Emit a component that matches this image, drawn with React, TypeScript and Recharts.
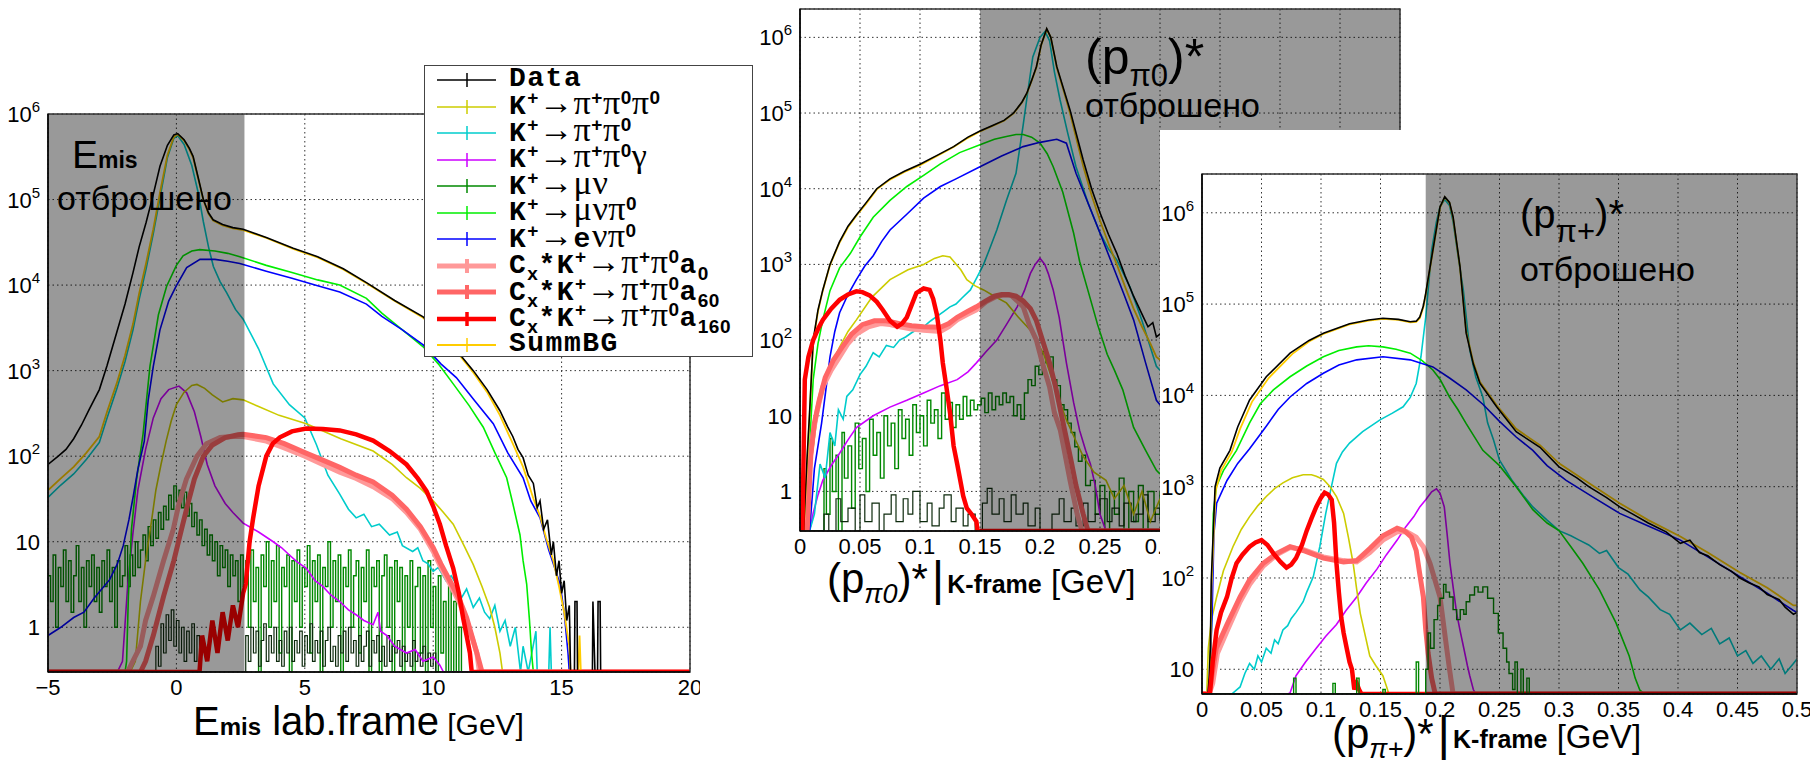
import React from "react";
import {
  LineChart,
  Line,
  XAxis,
  YAxis,
  CartesianGrid,
  ReferenceArea,
  Legend,
} from "recharts";

type Pt = [number, number];
type Key =
  | "data" | "k3pi" | "k2pi" | "k2pig" | "kmu2" | "kmu3"
  | "ke3" | "a0" | "a60" | "a160" | "bg" | "dark";

const SANS = "'Liberation Sans', Arial, sans-serif";
const MONO = "'Liberation Mono', 'Courier New', monospace";
const SERIF = "'Liberation Serif', 'Times New Roman', serif";

// line styles shared by the three panels
const STYLE: Record<Key, { color: string; width: number; step?: boolean }> = {
  data: { color: "#000000", width: 1.6 },
  k3pi: { color: "#cccc00", width: 1.6 },
  k2pi: { color: "#00cccc", width: 1.6 },
  k2pig: { color: "#cc00ff", width: 1.6 },
  kmu2: { color: "#008800", width: 1.4, step: true },
  kmu3: { color: "#00ee00", width: 1.6 },
  ke3: { color: "#0000ff", width: 1.6 },
  a0: { color: "#ff9999", width: 5 },
  a60: { color: "#ff6666", width: 5 },
  a160: { color: "#ff0000", width: 4.5 },
  bg: { color: "#ffcc00", width: 1.8 },
  dark: { color: "#0d2a0d", width: 1.2, step: true },
};

const LEGEND_KEYS: Key[] = ["data", "k3pi", "k2pi", "k2pig", "kmu2", "kmu3", "ke3", "a0", "a60", "a160", "bg"];
const LEGEND_TEXT = [
  "Data",
  "K^{+}→π^{+}π^{0}π^{0}",
  "K^{+}→π^{+}π^{0}",
  "K^{+}→π^{+}π^{0}γ",
  "K^{+}→μν",
  "K^{+}→μνπ^{0}",
  "K^{+}→eνπ^{0}",
  "C_{x}*K^{+}→π^{+}π^{0}a_{0}",
  "C_{x}*K^{+}→π^{+}π^{0}a_{60}",
  "C_{x}*K^{+}→π^{+}π^{0}a_{160}",
  "SummBG",
];

// ---------- left panel: E_mis lab.frame [GeV] ----------
const E_X: [number, number] = [-5, 20];
const E_Y: [number, number] = [0.3, 1e6];
const E_CUT: [number, number] = [-5, 2.65];
const E_MAJOR = [-5, 0, 5, 10, 15, 20];

const E_DATA: Pt[] = [[-5,80],[-4.6,100],[-4.3,120],[-4,160],[-3.7,230],[-3.4,350],[-3,600],[-2.7,1150],[-2.33,2760],[-2,6000],[-1.69,14000],[-1.45,28000],[-1.18,54000],[-0.9,115000],[-0.64,245000],[-0.35,430000],[-0.1,570000],[0.05,590000],[0.3,500000],[0.5,400000],[0.65,320000],[0.85,180000],[1.05,100000],[1.25,70000],[1.43,58000],[1.8,51000],[2.2,47000],[2.6,45000],[3.5,36000],[4.55,27000],[5.5,21500],[6.5,15500],[7.4,10700],[8.5,6600],[9.61,4250],[10.5,2300],[11,1600],[11.56,1000],[12.1,600],[12.6,340],[12.9,220],[13.1,170],[13.3,120],[13.5,96],[13.7,60],[13.9,48],[14.05,25],[14.16,30],[14.3,14],[14.45,18],[14.6,7],[14.68,10],[14.8,4],[14.9,6],[15,2.5],[15.1,3.5],[15.2,1.2],[15.3,1.8],[15.35,0],[15.5,0],[15.52,2],[15.6,2],[15.62,0],[16.2,0],[16.22,2],[16.3,0],[16.4,0],[16.42,2],[16.5,2],[16.52,0]];
const E_BG: Pt[] = [[-5,40],[-4.5,55],[-4,75],[-3.5,110],[-3,170],[-2.7,330],[-2.33,700],[-2,1500],[-1.69,3500],[-1.45,8000],[-1.18,18000],[-0.9,45000],[-0.64,120000],[-0.35,330000],[-0.1,540000],[0.05,580000],[0.3,490000],[0.5,390000],[0.65,310000],[0.85,175000],[1.05,98000],[1.25,68000],[1.43,57000],[1.8,50000],[2.2,46000],[2.6,44000],[3.5,35500],[4.55,26500],[5.5,21000],[6.5,15200],[7.4,10500],[8.5,6500],[9.61,4150],[10.5,2250],[11,1550],[11.56,950],[12.1,560],[12.6,300],[13.1,140],[13.5,75],[13.9,32],[14.16,20],[14.4,11],[14.68,6],[14.9,3],[15.1,1.5],[15.3,0.6],[15.35,0],[15.65,0],[15.7,0.8],[15.75,0],[20,0]];
const E_K3PI: Pt[] = [[-5,0],[-1.8,0],[-1.6,0.4],[-1.4,2],[-1.2,6],[-1,15],[-0.8,40],[-0.6,80],[-0.4,150],[-0.2,260],[0,400],[0.3,560],[0.6,670],[0.8,690],[1.1,620],[1.4,520],[1.8,430],[2.2,470],[2.6,455],[3.2,380],[4,300],[5.06,240],[6.4,160],[7.66,115],[8.4,80],[8.96,56],[9.5,42],[10,30],[10.4,22],[10.78,16],[11.2,9],[11.56,5.4],[11.9,3],[12.2,1.7],[12.4,1],[12.6,0.5],[12.7,0],[20,0]];
const E_K2PI: Pt[] = [[-5,33],[-4.5,46],[-4,62],[-3.5,92],[-3,145],[-2.7,280],[-2.33,600],[-2,1280],[-1.69,3000],[-1.45,6800],[-1.18,15500],[-0.9,40000],[-0.64,105000],[-0.35,310000],[-0.1,520000],[0.05,560000],[0.3,440000],[0.6,250000],[0.85,120000],[1.05,55000],[1.25,28000],[1.44,16500],[1.7,11000],[1.96,8100],[2.3,5200],[2.6,4000],[3.2,1800],[3.77,700],[4.4,400],[5,280],[5.45,137],[5.9,60],[6.36,36],[6.7,24],[7,19],[7.3,21],[7.6,15],[7.9,16],[8.3,12],[8.6,13],[8.8,9],[9.2,7.7],[9.4,8.5],[9.6,6],[9.8,5.5],[10,4.5],[10.2,5],[10.5,3.5],[10.7,4],[10.9,3.2],[11.1,2.2],[11.3,2.8],[11.56,1.7],[11.8,2.2],[12,1.5],[12.2,1.26],[12.4,1.8],[12.6,0.9],[12.8,1.2],[13,0.6],[13.2,1],[13.4,0],[13.5,0.6],[13.7,0],[14,0.9],[14.05,0],[14.5,0],[14.55,1],[14.6,0],[20,0]];
const E_K2PIG: Pt[] = [[-5,0],[-2.3,0],[-2.1,0.4],[-1.9,3],[-1.7,12],[-1.5,40],[-1.2,120],[-0.9,280],[-0.6,470],[-0.3,600],[0.1,660],[0.4,550],[0.7,330],[0.95,170],[1.2,80],[1.5,45],[1.9,28],[2.2,22],[2.6,16.5],[3.2,13],[3.77,10],[4.1,8.5],[4.4,7],[4.7,5.8],[5.06,4.9],[5.4,3.5],[5.7,3],[6,2.4],[6.36,2],[6.7,1.6],[7,1.4],[7.3,1.2],[7.66,1.07],[7.85,1.5],[7.95,0.9],[8.2,0.8],[8.5,0.6],[8.96,0.5],[9.3,0.55],[9.6,0.4],[10,0.45],[10.26,0.36],[10.4,0],[20,0]];
const E_KMU2: Pt[] = [[-5,4],[-4.9,2],[-4.8,7],[-4.7,1],[-4.6,5],[-4.5,3],[-4.4,8],[-4.3,2],[-4.2,6],[-4.1,1.5],[-4,4],[-3.9,9],[-3.8,2],[-3.7,5],[-3.6,1],[-3.5,6],[-3.4,3],[-3.3,7],[-3.2,2],[-3.1,5],[-3,1.5],[-2.9,6],[-2.8,3],[-2.7,8],[-2.6,2],[-2.5,5],[-2.4,1],[-2.3,6],[-2.2,3],[-2.1,4],[-2,9],[-1.9,3],[-1.8,7],[-1.7,4],[-1.6,10],[-1.5,5],[-1.4,8],[-1.3,12],[-1.2,6],[-1.1,15],[-1,9],[-0.9,18],[-0.8,11],[-0.7,22],[-0.6,14],[-0.5,26],[-0.4,18],[-0.3,35],[-0.2,24],[-0.1,45],[0,30],[0.1,40],[0.2,25],[0.3,38],[0.4,20],[0.5,28],[0.6,15],[0.7,22],[0.8,12],[0.9,18],[1,9],[1.1,14],[1.2,7],[1.3,12],[1.4,6],[1.5,10],[1.6,4],[1.7,9],[1.8,5],[1.9,8],[2,3],[2.1,7],[2.2,4],[2.3,6],[2.4,2],[2.5,7],[2.6,3],[2.7,6],[2.8,1],[2.9,8],[3,2],[3.1,5],[3.2,0],[3.3,7],[3.4,3],[3.5,10],[3.6,1],[3.7,6],[3.8,2],[3.9,9],[4,0.5],[4.1,5],[4.2,3],[4.3,7],[4.4,0],[4.5,6],[4.6,2],[4.7,8],[4.8,1],[4.9,5],[5,3],[5.1,9],[5.2,0.5],[5.3,6],[5.4,2],[5.5,7],[5.6,0],[5.7,5],[5.8,3],[5.9,10],[6,1],[6.1,6],[6.2,2],[6.3,7],[6.4,0],[6.5,5],[6.6,3],[6.7,8],[6.8,1],[6.9,4],[7,6],[7.1,0.5],[7.2,5],[7.3,2],[7.4,8],[7.5,0],[7.6,5],[7.7,3],[7.8,6],[7.9,0],[8,4],[8.1,7],[8.2,1],[8.3,5],[8.4,0],[8.5,6],[8.6,2],[8.7,5],[8.8,0],[8.9,4],[9,1],[9.1,6],[9.2,0],[9.3,3],[9.4,5],[9.5,0.5],[9.6,4],[9.7,0],[9.8,6],[9.9,1],[10,3],[10.1,0],[10.2,4],[10.3,0.5],[10.4,2],[10.5,0],[10.6,3],[10.7,0],[10.8,2],[10.9,0],[11,1],[11.1,0],[20,0]];
const E_DARK: Pt[] = [[-5,0],[-0.9,0],[-0.8,0.6],[-0.7,0.35],[-0.6,1.1],[-0.5,0.5],[-0.4,1.4],[-0.3,0.7],[-0.2,1.6],[-0.1,0.6],[0,1.2],[0.1,0.5],[0.2,1],[0.3,0.4],[0.4,0.9],[0.5,0.5],[0.6,1.1],[0.7,0.4],[0.8,0.8],[0.9,0],[2.7,0.8],[2.8,0.4],[2.9,1],[3,0.5],[3.1,0.9],[3.2,0.35],[3.3,0.7],[3.4,1.1],[3.5,0.4],[3.6,0.8],[3.7,0.5],[3.8,1],[3.9,0.4],[4,0.7],[4.1,0.35],[4.2,0.9],[4.3,0.5],[4.4,1],[4.5,0.4],[4.6,0.7],[4.7,0.5],[4.8,0.9],[4.9,0.35],[5,0.8],[5.1,0.5],[5.2,1.1],[5.3,0.4],[5.4,0.7],[5.5,0.5],[5.6,0.9],[5.7,0.35],[5.8,0.7],[5.9,1],[6,0.4],[6.1,0.6],[6.2,0.35],[6.3,0.8],[6.4,0.5],[6.5,0.9],[6.6,0.4],[6.7,1],[6.8,0.5],[6.9,0.7],[7,0.35],[7.1,0.8],[7.2,0.4],[7.3,0.6],[7.4,0.9],[7.5,0.35],[7.6,0.7],[7.7,0.5],[7.8,0.8],[7.9,0.4],[8,0.6],[8.1,0.35],[8.2,0.8],[8.3,0.4],[8.4,0.6],[8.5,0.5],[8.6,0.7],[8.7,0.35],[8.8,0.6],[8.9,0.4],[9,0.5],[9.1,0.35],[9.2,0.7],[9.3,0.4],[9.4,0.5],[9.5,0.35],[9.6,0.6],[9.7,0.4],[9.8,0.5],[9.9,0.35],[10,0.5],[10.1,0],[20,0]];
const E_KMU3: Pt[] = [[-5,0],[-2,0],[-1.94,0.4],[-1.87,2.3],[-1.75,14],[-1.55,54],[-1.3,180],[-1.03,1120],[-0.7,4500],[-0.38,9700],[0,17000],[0.26,22000],[0.6,25000],[0.91,26000],[1.5,25000],[2,23500],[2.47,21500],[3.5,17000],[4.5,14000],[5.5,11500],[6.36,10000],[7.4,7000],[8,4700],[8.8,3000],[9.61,1900],[10.2,1200],[10.78,700],[11.4,390],[11.95,218],[12.4,110],[12.86,56],[13.1,28],[13.38,12],[13.5,6],[13.64,3.2],[13.75,1.2],[13.83,0.5],[13.9,0],[20,0]];
const E_KE3: Pt[] = [[-5,0.8],[-4.5,1],[-4,1.3],[-3.6,1.5],[-3.2,2.2],[-2.6,3.6],[-2.3,5.5],[-2.07,9],[-1.85,18],[-1.68,34],[-1.5,70],[-1.25,150],[-1.1,450],[-0.9,1120],[-0.64,3000],[-0.3,6500],[-0.01,9700],[0.4,16000],[0.92,20000],[1.5,20000],[2,19000],[2.47,17900],[3.5,14500],[4.5,12000],[5.5,9800],[6.36,8300],[7.4,6000],[8,4300],[8.8,3000],[9.61,2000],[10.3,1200],[10.9,830],[11.6,450],[12.34,240],[12.9,110],[13.5,56],[13.8,30],[14.16,19],[14.5,8],[14.94,3.2],[15.1,1.5],[15.25,0.5],[15.3,0],[20,0]];
const E_A0: Pt[] = [[-5,0],[-1.9,0],[-1.7,0.4],[-1.4,0.6],[-1.2,1.2],[-0.9,2.3],[-0.5,6],[-0.12,14],[0.1,28],[0.39,54],[0.8,100],[1.17,140],[1.7,165],[2.2,170],[2.6,170],[3.5,150],[4.2,125],[5,100],[5.7,80],[6.36,65],[7,55],[7.66,44],[8.4,32],[8.96,22],[9.5,14],[10,7.7],[10.3,5],[10.65,3.2],[11,2],[11.3,1.2],[11.7,0.5],[11.8,0],[20,0]];
const E_A60: Pt[] = [[-5,0],[-1.4,0],[-1.2,0.4],[-0.9,0.8],[-0.5,2.3],[-0.1,6],[0.2,14],[0.45,28],[0.7,54],[1.05,100],[1.4,135],[1.9,165],[2.4,178],[2.6,180],[3.5,165],[4.2,140],[5,110],[5.7,90],[6.36,74],[7,60],[7.66,50],[8.4,35],[8.96,24],[9.5,15],[10,8.5],[10.3,5.5],[10.65,3.5],[11,2.2],[11.3,1.3],[11.7,0.5],[11.9,0],[20,0]];
const E_A160: Pt[] = [[-5,0],[0.9,0],[1,0.8],[1.2,0.4],[1.4,1.2],[1.6,0.5],[1.8,1.5],[2,0.7],[2.2,1.8],[2.4,1],[2.6,2.5],[2.7,3.2],[2.85,10],[2.99,19],[3.2,45],[3.5,100],[3.75,140],[4.03,166],[4.5,195],[5.06,210],[5.7,208],[6.36,200],[7,180],[7.66,152],[8.3,115],[8.96,80],[9.4,55],[9.74,39],[10,26],[10.26,16],[10.5,9],[10.78,4.9],[11,2.5],[11.17,1.26],[11.3,0.8],[11.43,0.5],[11.5,0],[20,0]];

// ---------- middle panel: (p_pi0)* K-frame [GeV] ----------
const P0_X: [number, number] = [0, 0.5];
const P0_Y: [number, number] = [0.3, 2.37e6];
const P0_CUT: [number, number] = [0.15, 0.5];

const P0_DATA: Pt[] = [[0,0],[0.003,0],[0.006,3],[0.008,11],[0.011,100],[0.015,250],[0.019,460],[0.025,1000],[0.033,2000],[0.04,3200],[0.047,4500],[0.055,6500],[0.064,10000],[0.075,13500],[0.087,17000],[0.1,21000],[0.115,28000],[0.128,36000],[0.14,48000],[0.15,58000],[0.16,68000],[0.17,80000],[0.178,100000],[0.185,140000],[0.189,183000],[0.193,270000],[0.197,410000],[0.201,800000],[0.2056,1300000],[0.209,1000000],[0.214,410000],[0.22,200000],[0.225,110000],[0.23,55000],[0.236,24000],[0.243,10000],[0.25,4800],[0.257,2500],[0.264,1400],[0.271,700],[0.278,380],[0.285,220],[0.29,150],[0.294,170],[0.297,110],[0.3,120]];
const P0_BG: Pt[] = [[0,0],[0.003,0],[0.006,2.5],[0.008,10],[0.011,95],[0.015,240],[0.019,450],[0.025,980],[0.033,1950],[0.04,3100],[0.047,4400],[0.055,6300],[0.064,9800],[0.075,13200],[0.087,16700],[0.1,20500],[0.115,27500],[0.128,35500],[0.14,47000],[0.15,57000],[0.16,67000],[0.17,79000],[0.178,99000],[0.185,138000],[0.189,180000],[0.193,265000],[0.197,400000],[0.201,790000],[0.2056,1280000],[0.209,1000000],[0.214,400000],[0.22,190000],[0.225,100000],[0.23,48000],[0.236,20000],[0.243,8200],[0.25,3800],[0.257,1900],[0.264,1000],[0.271,500],[0.278,260],[0.285,150],[0.292,90],[0.297,60],[0.3,55]];
const P0_K3PI: Pt[] = [[0,0],[0.006,0],[0.01,3],[0.015,12],[0.02,30],[0.028,55],[0.033,81],[0.04,130],[0.047,185],[0.06,370],[0.075,630],[0.09,850],[0.103,1000],[0.112,1200],[0.119,1300],[0.125,1250],[0.128,1100],[0.134,850],[0.139,630],[0.146,520],[0.153,460],[0.162,380],[0.172,310],[0.182,200],[0.192,135],[0.203,66],[0.214,20],[0.222,8.8],[0.229,5],[0.236,2.9],[0.245,1.8],[0.255,1.4],[0.262,0.8],[0.27,1.2],[0.278,0.5],[0.285,1],[0.292,0.4],[0.3,0.8]];
const P0_K2PI: Pt[] = [[0,0],[0.008,0],[0.012,0.5],[0.0167,2.3],[0.021,1.5],[0.025,6],[0.029,4],[0.032,12],[0.036,9],[0.039,18],[0.044,22],[0.05,35],[0.055,45],[0.061,68],[0.066,60],[0.072,85],[0.078,80],[0.083,100],[0.088,110],[0.093,125],[0.098,140],[0.103,150],[0.109,180],[0.115,210],[0.12,240],[0.125,275],[0.13,300],[0.135,360],[0.142,460],[0.148,700],[0.153,1000],[0.158,1600],[0.164,2850],[0.172,7000],[0.18,16000],[0.186,70000],[0.19,200000],[0.194,550000],[0.2,1000000],[0.2042,1200000],[0.208,900000],[0.212,350000],[0.2167,150000],[0.223,55000],[0.23,19500],[0.24,6500],[0.25,2600],[0.257,1600],[0.264,1150],[0.275,500],[0.285,180],[0.297,45],[0.3,40]];
const P0_K2PIG: Pt[] = [[0,0],[0.006,0],[0.009,0.35],[0.011,0.52],[0.015,0.9],[0.019,1.4],[0.026,2.2],[0.033,3.2],[0.04,4.8],[0.047,7],[0.061,10],[0.075,13],[0.089,16],[0.103,20],[0.117,25],[0.131,30],[0.14,38],[0.147,50],[0.155,70],[0.164,100],[0.172,160],[0.181,275],[0.187,450],[0.192,760],[0.196,1000],[0.2,1200],[0.204,1000],[0.207,750],[0.211,460],[0.216,200],[0.222,50],[0.228,15],[0.233,6.4],[0.238,3.5],[0.242,2.3],[0.246,1.2],[0.25,0.5],[0.255,0],[0.3,0]];
const P0_KMU2: Pt[] = [[0,0],[0.018,0],[0.02,2],[0.022,0.5],[0.025,5],[0.027,1],[0.03,3],[0.032,0],[0.035,6],[0.037,1.5],[0.04,4],[0.043,0.6],[0.046,8],[0.049,2],[0.052,5],[0.055,1],[0.058,9],[0.061,3],[0.064,6],[0.067,1.5],[0.07,10],[0.073,4],[0.076,8],[0.079,2],[0.082,12],[0.085,5],[0.088,9],[0.091,3],[0.094,14],[0.097,6],[0.1,10],[0.103,4],[0.106,16],[0.109,8],[0.112,12],[0.115,5],[0.118,20],[0.121,9],[0.124,15],[0.127,7],[0.13,14],[0.133,9],[0.136,18],[0.139,10],[0.142,16],[0.145,12],[0.148,14],[0.151,17],[0.154,11],[0.157,20],[0.16,12],[0.163,18],[0.166,14],[0.169,20],[0.172,15],[0.175,18],[0.178,10],[0.181,14],[0.184,9],[0.187,20],[0.19,30],[0.193,25],[0.196,45],[0.199,35],[0.202,70],[0.205,50],[0.208,60],[0.211,30],[0.214,25],[0.217,14],[0.22,12],[0.223,8],[0.226,6],[0.229,3.9],[0.232,2.5],[0.235,3],[0.238,1.2],[0.242,1.4],[0.246,0.5],[0.25,1.2],[0.254,0.3],[0.258,1],[0.262,0.5],[0.266,1.5],[0.27,0],[0.274,1],[0.278,0.4],[0.282,1.2],[0.286,0],[0.29,1],[0.295,0.5],[0.3,1]];
const P0_DARK: Pt[] = [[0,0],[0.018,0],[0.02,0.5],[0.024,0],[0.03,0.8],[0.034,0.4],[0.04,0.6],[0.046,0],[0.05,0.9],[0.054,0.4],[0.06,0.7],[0.066,0],[0.07,0.5],[0.076,0.9],[0.08,0.4],[0.086,0.8],[0.09,0.5],[0.094,1],[0.1,0.4],[0.106,0.7],[0.11,0.35],[0.116,0.6],[0.12,0.9],[0.126,0.4],[0.13,0.6],[0.136,0.35],[0.14,0.5],[0.146,0],[0.152,0.7],[0.156,1.1],[0.16,0.5],[0.166,0.8],[0.17,0.4],[0.176,0.9],[0.18,0.5],[0.186,0.7],[0.19,0.35],[0.196,0.6],[0.2,0],[0.21,0.5],[0.216,0.8],[0.22,0.4],[0.226,0.6],[0.23,0.35],[0.236,0.7],[0.24,0.4],[0.246,0.5],[0.25,0.8],[0.256,0.4],[0.26,0.6],[0.266,0.35],[0.27,0.7],[0.276,0.4],[0.28,0.5],[0.286,0.9],[0.29,0.4],[0.296,0.6],[0.3,0.4]];
const P0_KMU3: Pt[] = [[0,0],[0.004,0],[0.007,1.4],[0.009,8],[0.011,30],[0.015,90],[0.019,185],[0.025,450],[0.033,900],[0.042,1400],[0.05,2300],[0.061,4200],[0.075,7000],[0.089,10700],[0.103,15000],[0.117,21300],[0.133,30000],[0.15,38000],[0.162,45000],[0.172,49000],[0.18,52000],[0.186,52000],[0.193,48000],[0.2,40000],[0.206,29000],[0.211,19500],[0.219,9000],[0.228,2600],[0.233,1100],[0.24,450],[0.248,160],[0.256,65],[0.262,40],[0.269,22],[0.278,7],[0.288,3.5],[0.297,1.9],[0.3,1.7]];
const P0_KE3: Pt[] = [[0,0],[0.008,0],[0.012,2],[0.018,8],[0.022,25],[0.025,60],[0.029,130],[0.033,230],[0.04,400],[0.047,630],[0.054,950],[0.061,1300],[0.068,2000],[0.075,2850],[0.089,4600],[0.103,7500],[0.117,10700],[0.13,13500],[0.15,19500],[0.168,27000],[0.186,36000],[0.2,41000],[0.214,45000],[0.222,40000],[0.23,16000],[0.239,7100],[0.25,2600],[0.261,930],[0.27,400],[0.278,185],[0.288,50],[0.297,16],[0.3,14]];
const P0_A0: Pt[] = [[0,0],[0.005,0],[0.008,2.3],[0.011,6],[0.014,11],[0.019,24],[0.026,40],[0.033,60],[0.04,90],[0.047,120],[0.057,150],[0.067,165],[0.075,160],[0.083,150],[0.093,140],[0.103,135],[0.117,130],[0.124,150],[0.131,185],[0.14,220],[0.147,250],[0.155,320],[0.164,380],[0.17,395],[0.176,390],[0.181,330],[0.186,275],[0.191,160],[0.197,100],[0.202,50],[0.208,24],[0.212,11],[0.217,6.4],[0.221,3],[0.225,1.4],[0.231,0.5],[0.235,0],[0.3,0]];
const P0_A60: Pt[] = [[0,0],[0.006,0],[0.009,3],[0.012,8],[0.016,16],[0.021,32],[0.028,55],[0.035,80],[0.043,120],[0.052,160],[0.062,180],[0.072,180],[0.083,165],[0.093,155],[0.103,150],[0.117,148],[0.124,165],[0.131,200],[0.14,240],[0.147,275],[0.155,330],[0.162,380],[0.168,400],[0.174,400],[0.18,380],[0.186,330],[0.192,260],[0.197,180],[0.202,100],[0.208,50],[0.213,24],[0.218,10],[0.222,5],[0.226,2.5],[0.23,1.2],[0.236,0.5],[0.24,0],[0.3,0]];
const P0_A160: Pt[] = [[0,0],[0.002,0],[0.004,30],[0.007,60],[0.011,100],[0.015,140],[0.019,185],[0.026,260],[0.033,340],[0.04,400],[0.047,440],[0.052,430],[0.058,390],[0.064,320],[0.069,250],[0.075,180],[0.081,150],[0.085,165],[0.089,200],[0.093,290],[0.097,420],[0.103,480],[0.108,460],[0.111,350],[0.114,220],[0.117,100],[0.119,50],[0.122,24],[0.125,11],[0.128,4],[0.131,2.3],[0.136,0.87],[0.139,0.6],[0.143,0.5],[0.147,0.4],[0.148,0],[0.5,0]];

// ---------- right panel: (p_pi+)* K-frame [GeV] ----------
const PP_X: [number, number] = [0, 0.5];
const PP_Y: [number, number] = [5.36, 2.66e6];
const PP_CUT: [number, number] = [0.188, 0.5];

const PP_DATA: Pt[] = [[0,0],[0.005,0],[0.006,8],[0.007,17],[0.0078,95],[0.0095,330],[0.011,1000],[0.015,1600],[0.0235,2500],[0.03,4500],[0.04,8900],[0.054,16000],[0.074,29000],[0.09,40000],[0.102,48000],[0.124,61000],[0.14,67000],[0.152,70000],[0.165,68000],[0.175,64000],[0.18,65000],[0.183,72000],[0.186,95000],[0.188,131000],[0.194,390000],[0.2,1160000],[0.204,1500000],[0.208,1300000],[0.211,900000],[0.2168,257000],[0.222,48000],[0.228,22000],[0.2336,13500],[0.2476,7500],[0.264,4000],[0.284,2700],[0.3,1650],[0.315,1250],[0.325,1000],[0.34,760],[0.351,600],[0.362,500],[0.375,400],[0.39,320],[0.402,240],[0.41,260],[0.418,190],[0.425,175],[0.435,140],[0.445,118],[0.452,100],[0.46,88],[0.468,80],[0.475,66],[0.485,58],[0.49,48],[0.497,40],[0.5,42]];
const PP_BG: Pt[] = [[0,0],[0.005,0],[0.006,6],[0.007,14],[0.008,80],[0.0098,300],[0.0115,900],[0.016,1500],[0.025,2400],[0.032,4300],[0.042,8500],[0.056,15500],[0.076,28500],[0.09,39000],[0.102,47000],[0.124,60000],[0.14,66000],[0.152,69000],[0.165,67000],[0.175,63000],[0.18,64000],[0.183,70000],[0.186,92000],[0.188,128000],[0.194,380000],[0.2,1140000],[0.204,1480000],[0.208,1280000],[0.211,880000],[0.2168,250000],[0.222,50000],[0.228,23000],[0.2336,14000],[0.2476,7800],[0.264,4300],[0.284,2850],[0.3,1800],[0.325,1100],[0.351,660],[0.375,430],[0.402,285],[0.425,190],[0.452,115],[0.475,78],[0.497,50],[0.5,50]];
const PP_K3PI: Pt[] = [[0,0],[0.004,0],[0.0053,17],[0.008,35],[0.0123,62],[0.018,120],[0.026,220],[0.033,340],[0.04,470],[0.047,620],[0.054,780],[0.061,950],[0.068,1100],[0.076,1250],[0.085,1350],[0.092,1350],[0.096,1300],[0.102,1200],[0.1076,1000],[0.113,780],[0.119,510],[0.123,280],[0.127,145],[0.13,75],[0.133,41],[0.137,24],[0.141,14],[0.146,11],[0.152,8.5],[0.155,6.5],[0.157,0],[0.5,0]];
const PP_K2PI: Pt[] = [[0,0],[0.025,0],[0.032,6.4],[0.036,9],[0.04,11.6],[0.044,10],[0.047,14],[0.05,12],[0.054,17],[0.058,15],[0.061,21],[0.064,19],[0.068,27],[0.072,30],[0.075,36],[0.079,42],[0.082,48],[0.085,55],[0.088,70],[0.0935,103],[0.099,220],[0.104,510],[0.108,900],[0.113,1800],[0.118,2400],[0.124,3000],[0.135,4000],[0.1496,5400],[0.16,6400],[0.169,7500],[0.175,9500],[0.18,13500],[0.184,26500],[0.188,72000],[0.193,390000],[0.197,800000],[0.2,1160000],[0.204,1400000],[0.208,1200000],[0.211,800000],[0.215,350000],[0.2196,142000],[0.225,31500],[0.23,16000],[0.236,9600],[0.24,5000],[0.245,3240],[0.25,1950],[0.26,1200],[0.27,800],[0.278,600],[0.29,430],[0.3,330],[0.31,290],[0.317,260],[0.325,230],[0.334,186],[0.34,200],[0.35,130],[0.358,110],[0.368,74],[0.375,62],[0.385,45],[0.393,40],[0.402,27],[0.41,32],[0.42,24],[0.428,28],[0.435,19],[0.443,22],[0.45,14],[0.457,16],[0.463,11.6],[0.47,14],[0.478,10],[0.485,13],[0.49,9],[0.497,11.6],[0.5,13]];
const PP_K2PIG: Pt[] = [[0,0],[0.072,0],[0.074,5.5],[0.079,8.5],[0.087,12],[0.096,17],[0.104,23],[0.113,31],[0.121,44],[0.13,62],[0.138,88],[0.147,125],[0.155,180],[0.164,260],[0.171,360],[0.178,470],[0.183,600],[0.188,720],[0.193,880],[0.197,950],[0.2,850],[0.2036,600],[0.206,300],[0.2084,145],[0.211,80],[0.214,41],[0.217,26],[0.22,17],[0.223,11],[0.225,8.5],[0.228,6],[0.23,0],[0.5,0]];
const PP_KMU2: Pt[] = [[0,0],[0.075,0],[0.077,8],[0.079,0],[0.108,0],[0.11,7],[0.112,0],[0.128,0],[0.13,8],[0.132,0],[0.15,0],[0.152,6],[0.154,0],[0.178,0],[0.18,12],[0.182,0],[0.186,0],[0.188,10],[0.19,25],[0.192,17],[0.195,35],[0.198,50],[0.2,60],[0.203,85],[0.205,70],[0.208,62],[0.211,45],[0.214,35],[0.217,45],[0.22,40],[0.222,55],[0.225,65],[0.229,80],[0.232,70],[0.236,80],[0.24,60],[0.245,41],[0.249,25],[0.253,17],[0.256,12],[0.258,9],[0.261,6],[0.263,12],[0.265,0],[0.268,10],[0.27,0],[0.273,8],[0.275,0],[0.5,0]];
const PP_KMU3: Pt[] = [[0,0],[0.006,0],[0.008,30],[0.0095,500],[0.012,1000],[0.018,1500],[0.029,2500],[0.04,5000],[0.049,8100],[0.06,11500],[0.074,16000],[0.088,21000],[0.102,26500],[0.115,31000],[0.13,34000],[0.14,35000],[0.152,34000],[0.163,32000],[0.175,29000],[0.185,24000],[0.194,19000],[0.2,15000],[0.208,9600],[0.215,7000],[0.222,4900],[0.236,2500],[0.25,1700],[0.264,1000],[0.278,560],[0.29,400],[0.3,330],[0.31,220],[0.32,145],[0.334,74],[0.348,32],[0.359,14],[0.364,8],[0.368,5.9],[0.372,0],[0.5,0]];
const PP_KE3: Pt[] = [[0,0],[0.006,0],[0.0085,40],[0.01,300],[0.0123,660],[0.021,1170],[0.03,1800],[0.04,2600],[0.054,4600],[0.064,7000],[0.074,9600],[0.088,13500],[0.102,17500],[0.115,21500],[0.13,24500],[0.152,26500],[0.175,24500],[0.194,20500],[0.208,15500],[0.222,11500],[0.236,8000],[0.25,5200],[0.264,3500],[0.278,2500],[0.29,1700],[0.306,1170],[0.33,750],[0.351,510],[0.375,370],[0.402,260],[0.425,170],[0.452,103],[0.475,68],[0.497,44],[0.5,42]];
const PP_A0: Pt[] = [[0,0],[0.006,0],[0.009,7],[0.013,15],[0.022,28],[0.032,55],[0.04,85],[0.0515,135],[0.063,180],[0.074,215],[0.085,205],[0.102,170],[0.119,155],[0.13,150],[0.141,190],[0.152,260],[0.164,320],[0.172,320],[0.18,280],[0.186,220],[0.1916,145],[0.2,62],[0.2056,17],[0.208,10],[0.211,0],[0.5,0]];
const PP_A60: Pt[] = [[0,0],[0.006,0],[0.008,8],[0.012,17],[0.021,31],[0.032,62],[0.04,95],[0.0515,145],[0.063,186],[0.074,220],[0.085,200],[0.102,165],[0.119,150],[0.13,155],[0.141,210],[0.152,290],[0.164,350],[0.17,330],[0.176,280],[0.18,200],[0.183,110],[0.186,62],[0.188,27],[0.19,15],[0.193,8],[0.196,0],[0.5,0]];
const PP_A160: Pt[] = [[0,0],[0.005,0],[0.0067,5.5],[0.009,12],[0.0123,27],[0.016,42],[0.021,62],[0.025,100],[0.029,145],[0.034,180],[0.04,220],[0.045,245],[0.05,260],[0.055,230],[0.06,186],[0.066,150],[0.071,130],[0.075,140],[0.079,165],[0.084,230],[0.088,330],[0.092,450],[0.096,600],[0.1,760],[0.103,860],[0.106,820],[0.109,720],[0.111,400],[0.113,145],[0.115,70],[0.117,37],[0.119,25],[0.1216,17],[0.124,12],[0.126,10],[0.128,6],[0.13,7],[0.132,6],[0.134,0],[0.5,0]];

const P_MAJOR = [0, 0.05, 0.1, 0.15, 0.2, 0.25, 0.3, 0.35, 0.4, 0.45, 0.5];

// draw order (first = bottom)
const E_SERIES: [Key, Pt[]][] = [["kmu2", E_KMU2], ["dark", E_DARK], ["k2pig", E_K2PIG], ["k2pi", E_K2PI], ["k3pi", E_K3PI], ["kmu3", E_KMU3], ["ke3", E_KE3], ["a0", E_A0], ["a60", E_A60], ["bg", E_BG], ["data", E_DATA], ["a160", E_A160]];
const P0_SERIES: [Key, Pt[]][] = [["kmu2", P0_KMU2], ["dark", P0_DARK], ["k2pig", P0_K2PIG], ["k2pi", P0_K2PI], ["k3pi", P0_K3PI], ["kmu3", P0_KMU3], ["ke3", P0_KE3], ["a0", P0_A0], ["a60", P0_A60], ["bg", P0_BG], ["data", P0_DATA], ["a160", P0_A160]];
const PP_SERIES: [Key, Pt[]][] = [["k2pig", PP_K2PIG], ["k2pi", PP_K2PI], ["k3pi", PP_K3PI], ["kmu3", PP_KMU3], ["ke3", PP_KE3], ["a0", PP_A0], ["a60", PP_A60], ["bg", PP_BG], ["data", PP_DATA], ["a160", PP_A160], ["kmu2", PP_KMU2]];

const toPts = (arr: Pt[], floor: number) =>
  arr.map(([x, y]) => ({ x, y: y > floor ? y : floor }));

const decades = (lo: number, hi: number) => {
  const out: number[] = [];
  for (let e = -2; e <= 8; e++) {
    const v = Math.pow(10, e);
    if (v >= lo && v <= hi * 1.001) out.push(v);
  }
  return out;
};
const minors = (lo: number, hi: number) => {
  const out: number[] = [];
  for (let e = -2; e <= 8; e++) {
    for (let k = 2; k <= 9; k++) {
      const v = k * Math.pow(10, e);
      if (v > lo && v < hi) out.push(v);
    }
  }
  return out;
};
const minorX = (lo: number, hi: number, step: number, every: number) => {
  const out: number[] = [];
  const n = Math.round((hi - lo) / step);
  for (let i = 0; i <= n; i++) if (i % every !== 0) out.push(+(lo + i * step).toFixed(4));
  return out;
};

const YTick = (props: any) => {
  const { x, y, payload } = props;
  const v = payload.value;
  const e = Math.round(Math.log10(v));
  return (
    <text x={x} y={y} dy={8} textAnchor="end" fontFamily={SANS} fontSize={22} fill="#000">
      {e <= 1 ? String(v) : (
        <>
          10<tspan dy={-10} fontSize={15}>{e}</tspan>
        </>
      )}
    </text>
  );
};

const XTick = (props: any) => {
  const { x, y, payload, fmt } = props;
  return (
    <text x={x} y={y} dy={17} textAnchor="middle" fontFamily={SANS} fontSize={22} fill="#000">
      {fmt(payload.value)}
    </text>
  );
};

const GREEK = /[→πμνγ]/;
const runs = (s: string, size: number) => {
  const out: React.ReactNode[] = [];
  let buf = "";
  let greek = false;
  const flush = (k: number) => {
    if (!buf) return;
    out.push(
      greek ? (
        <span key={k} style={{ fontFamily: SERIF, fontWeight: "normal", fontSize: size * 1.22, letterSpacing: 0.5 }}>{buf}</span>
      ) : (
        <span key={k}>{buf}</span>
      )
    );
    buf = "";
  };
  [...s].forEach((c, i) => {
    const g = GREEK.test(c);
    if (g !== greek) { flush(i); greek = g; }
    buf += c;
  });
  flush(s.length + 1);
  return out;
};

const scriptStyle = (top: number): React.CSSProperties => ({
  fontFamily: SANS, fontWeight: "bold", fontSize: 19, position: "relative", top, letterSpacing: 0.5,
});

const rich = (s: string) =>
  s.split(/(\^\{[^}]*\}|_\{[^}]*\})/).filter(Boolean).map((p, i) => {
    if (p.startsWith("^{"))
      return <span key={i} style={scriptStyle(-10)}>{runs(p.slice(2, -1), 19)}</span>;
    if (p.startsWith("_{"))
      return <span key={i} style={scriptStyle(7)}>{runs(p.slice(2, -1), 19)}</span>;
    return <React.Fragment key={i}>{runs(p, 28)}</React.Fragment>;
  });

const LegendBox = () => (
  <div style={{ width: 329, height: 292, boxSizing: "border-box", border: "1.5px solid #444", background: "#fff" }}>
    {LEGEND_KEYS.map((k, i) => {
      const st = STYLE[k];
      return (
        <div key={k} style={{ display: "flex", alignItems: "center", height: 26.5 }}>
          <svg width={84} height={26} style={{ flex: "none" }}>
            <line x1={12} x2={71} y1={14} y2={14} stroke={st.color} strokeWidth={Math.min(st.width, 5)} />
            <line x1={42} x2={42} y1={7} y2={21} stroke={st.color} strokeWidth={Math.max(1.5, st.width - 1)} />
          </svg>
          <span style={{ fontFamily: MONO, fontWeight: "bold", fontSize: 28, letterSpacing: 1.5, whiteSpace: "nowrap", lineHeight: "26px", color: "#000" }}>
            {rich(LEGEND_TEXT[i])}
          </span>
        </div>
      );
    })}
  </div>
);

interface PanelProps {
  width: number;
  height: number;
  margin: { top: number; right: number; bottom: number; left: number };
  yAxisWidth: number;
  xAxisHeight: number;
  xDomain: [number, number];
  yDomain: [number, number];
  xMajor: number[];
  xMinor: number[];
  cut: [number, number];
  series: [Key, Pt[]][];
  fmt: (v: number) => string;
  legend?: boolean;
}

const Panel = (p: PanelProps) => {
  const [x0, x1] = p.xDomain;
  const [y0, y1] = p.yDomain;
  const yMajor = decades(y0, y1);
  const yMinor = minors(y0, y1);
  return (
    <LineChart width={p.width} height={p.height} margin={p.margin}>
      <CartesianGrid stroke="#333" strokeDasharray="1.5 3" strokeWidth={1} />
      <XAxis xAxisId={0} type="number" dataKey="x" domain={p.xDomain} allowDataOverflow ticks={p.xMajor} interval={0}
        height={p.xAxisHeight} tickLine={false} tickSize={0} tickMargin={6}
        axisLine={{ stroke: "#000", strokeWidth: 1.5 }} tick={<XTick fmt={p.fmt} />} />
      <XAxis xAxisId="xmaj" type="number" dataKey="x" domain={p.xDomain} allowDataOverflow ticks={p.xMajor} interval={0}
        mirror height={0} tick={false} axisLine={false} tickSize={16} tickLine={{ stroke: "#000" }} />
      <XAxis xAxisId="xmin" type="number" dataKey="x" domain={p.xDomain} allowDataOverflow ticks={p.xMinor} interval={0}
        mirror height={0} tick={false} axisLine={false} tickSize={8} tickLine={{ stroke: "#000" }} />
      <YAxis yAxisId={0} type="number" scale="log" domain={p.yDomain} allowDataOverflow ticks={yMajor} interval={0}
        width={p.yAxisWidth} tickLine={false} tickSize={0} tickMargin={8}
        axisLine={{ stroke: "#000", strokeWidth: 1.5 }} tick={<YTick />} />
      <YAxis yAxisId="ymaj" type="number" scale="log" domain={p.yDomain} allowDataOverflow ticks={yMajor} interval={0}
        mirror width={0} tick={false} axisLine={false} tickSize={20} tickLine={{ stroke: "#000" }} />
      <YAxis yAxisId="ymin" type="number" scale="log" domain={p.yDomain} allowDataOverflow ticks={yMinor} interval={0}
        mirror width={0} tick={false} axisLine={false} tickSize={10} tickLine={{ stroke: "#000" }} />
      {p.series.map(([key, pts]) => (
        <Line key={key} xAxisId={0} yAxisId={0} data={toPts(pts, y0)} dataKey="y"
          type={STYLE[key].step ? "stepAfter" : "linear"} stroke={STYLE[key].color}
          strokeWidth={STYLE[key].width} dot={false} activeDot={false}
          isAnimationActive={false} legendType="none" />
      ))}
      <ReferenceArea xAxisId={0} yAxisId={0} x1={p.cut[0]} x2={p.cut[1]} y1={y0} y2={y1}
        fill="#000" fillOpacity={0.4} stroke="none" zIndex={450} />
      <ReferenceArea xAxisId={0} yAxisId={0} x1={x0} x2={x1} y1={y0} y2={y1}
        fill="none" fillOpacity={0} stroke="#333" strokeWidth={1.5} zIndex={460} />
      {p.legend && (
        <Legend layout="vertical" align="center" verticalAlign="middle"
          content={() => <LegendBox />}
          wrapperStyle={{ left: 424, top: 65, width: 329, height: 292 }} />
      )}
    </LineChart>
  );
};

const fmtE = (v: number) => (v < 0 ? "\u2212" + Math.abs(v) : String(v));
const fmtP = (v: number) => String(v);

export default function App() {
  return (
    <div style={{ position: "absolute", left: 0, top: 0, width: 1810, height: 770, background: "#fff", overflow: "hidden", fontFamily: SANS }}>
      <div style={{ position: "absolute", left: 740, top: 0 }}>
        <Panel width={670} height={561} margin={{ top: 9, right: 10, bottom: 0, left: 0 }}
          yAxisWidth={60} xAxisHeight={30} xDomain={P0_X} yDomain={P0_Y}
          xMajor={P_MAJOR} xMinor={minorX(0, 0.5, 0.01, 5)} cut={P0_CUT} series={P0_SERIES} fmt={fmtP} />
      </div>
      <div style={{ position: "absolute", left: 0, top: 0 }}>
        <Panel width={700} height={702} margin={{ top: 114, right: 10, bottom: 0, left: 0 }}
          yAxisWidth={48} xAxisHeight={30} xDomain={E_X} yDomain={E_Y}
          xMajor={E_MAJOR} xMinor={minorX(-5, 20, 1, 5)} cut={E_CUT} series={E_SERIES} fmt={fmtE} legend />
      </div>
      <div style={{ position: "absolute", left: 1160, top: 130, width: 650, height: 640, background: "#fff" }}>
        <Panel width={650} height={610} margin={{ top: 44, right: 13, bottom: 0, left: 0 }}
          yAxisWidth={42} xAxisHeight={46} xDomain={PP_X} yDomain={PP_Y}
          xMajor={P_MAJOR} xMinor={minorX(0, 0.5, 0.01, 5)} cut={PP_CUT} series={PP_SERIES} fmt={fmtP} />
      </div>
      <svg width={1810} height={770} style={{ position: "absolute", left: 0, top: 0, pointerEvents: "none" }}
        fontFamily={SANS} fill="#000">
        <text x={72} y={168} fontSize={39}>E<tspan fontSize={23} fontWeight="bold">mis</tspan></text>
        <text x={57} y={210} fontSize={34}>отброшено</text>
        <text x={1085} y={74} fontSize={50}>(p<tspan dy={12} fontSize={31}>π0</tspan><tspan dy={-12}>)*</tspan></text>
        <text x={1085} y={117} fontSize={34}>отброшено</text>
        <text x={1520} y={228} fontSize={40}>(p<tspan dy={14} fontSize={31}>π+</tspan><tspan dy={-14}>)*</tspan></text>
        <text x={1520} y={281} fontSize={34}>отброшено</text>
        <text x={193} y={735} fontSize={40}>E<tspan fontSize={24} fontWeight="bold">mis</tspan>
          <tspan>{" lab.frame"}</tspan><tspan fontSize={30}>{" [GeV]"}</tspan></text>
        <text x={827} y={593} fontSize={42}>(p<tspan dy={10} fontSize={27} fontStyle="italic">π0</tspan>
          <tspan dy={-10}>)*</tspan><tspan fontSize={48} dx={4} dy={2}>|</tspan>
          <tspan fontSize={25} fontWeight="bold" dx={3} dy={-2}>K-frame</tspan><tspan fontSize={33}>{" [GeV]"}</tspan></text>
        <text x={1332} y={748} fontSize={42}>(p<tspan dy={10} fontSize={27} fontStyle="italic">π+</tspan>
          <tspan dy={-10}>)*</tspan><tspan fontSize={48} dx={4} dy={2}>|</tspan>
          <tspan fontSize={25} fontWeight="bold" dx={3} dy={-2}>K-frame</tspan><tspan fontSize={33}>{" [GeV]"}</tspan></text>
      </svg>
    </div>
  );
}
